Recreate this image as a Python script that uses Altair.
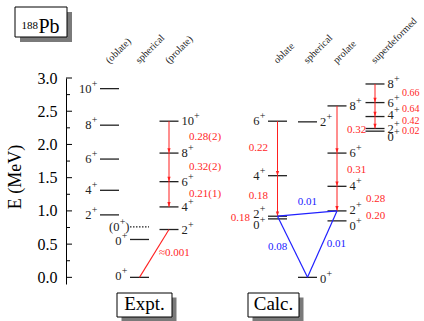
import altair as alt
import pandas as pd

# ---------------------------------------------------------------------------
# Level energies (MeV), listed top to bottom in each column
# ---------------------------------------------------------------------------
EXPT_OBLATE_J = ["10", "8", "6", "4", "2"]
EXPT_OBLATE_E = [2.84, 2.29, 1.78, 1.31, 0.94]
EXPT_SPH_J = ["0", "0"]
EXPT_SPH_E = [0.57, 0.00]
EXPT_SPH_TENTATIVE_E = 0.76          # the (0+) level, drawn dotted
EXPT_PROLATE_J = ["10", "8", "6", "4", "2"]
EXPT_PROLATE_E = [2.35, 1.87, 1.44, 1.06, 0.72]

CALC_OBLATE_J = ["6", "4", "2", "0"]
CALC_OBLATE_E = [2.35, 1.53, 0.92, 0.88]
CALC_SPH_J = ["2", "0"]
CALC_SPH_E = [2.34, 0.00]
CALC_PROLATE_J = ["8", "6", "4", "2", "0"]
CALC_PROLATE_E = [2.58, 1.87, 1.37, 1.00, 0.85]
CALC_SD_J = ["8", "6", "4", "2", "0"]
CALC_SD_E = [2.91, 2.63, 2.42, 2.24, 2.20]

# ---------------------------------------------------------------------------
# B(E2) strengths
# ---------------------------------------------------------------------------
EXPT_PROLATE_BE2 = ["0.28(2)", "0.32(2)", "0.21(1)"]   # 8->6, 6->4, 4->2
EXPT_MIXING_BE2 = "≈0.001"                              # prolate 2+ -> ground state
CALC_OBLATE_BE2 = ["0.22", "0.18", "0.18"]              # 6->4, 4->2, 2->0
CALC_PROLATE_BE2 = ["0.32", "0.31", "0.28", "0.20"]     # 8->6, 6->4, 4->2, 2->0
CALC_SD_BE2 = ["0.66", "0.64", "0.42", "0.02"]          # 8->6, 6->4, 4->2, 2->0
CALC_INTERBAND_BE2 = ["0.01", "0.08", "0.01"]           # obl 2+->pro 2+, obl 2+->g.s., pro 2+->g.s.

Y_MAJOR = [0.0, 0.5, 1.0, 1.5, 2.0, 2.5, 3.0]
Y_MINOR = [0.25, 0.75, 1.25, 1.75, 2.25, 2.75]

# ---------------------------------------------------------------------------
# Layout
# ---------------------------------------------------------------------------
FONT = "Liberation Serif"
LEFT, TOP = 66, 78
W, H = 424 - LEFT, 206
E_MIN, E_MAX = -0.1, 3.0
PX_PER_MEV = H / (E_MAX - E_MIN)
HALF = 9.5
RED, BLUE, INK = "#ff1f1f", "#2020ff", "#222222"

COLS = {"e_obl": 109.5, "e_sph": 139.5, "e_pro": 169.0,
        "c_obl": 277.5, "c_sph": 307.5, "c_pro": 337.0, "c_sd": 375.0}
HEADERS = {"e_obl": "(oblate)", "e_sph": "spherical", "e_pro": "(prolate)",
           "c_obl": "oblate", "c_sph": "spherical", "c_pro": "prolate",
           "c_sd": "superdeformed"}
# vertical nudges (px, up positive) for labels of closely spaced levels
LABEL_SHIFT = {"e_sph": [-2, 1], "c_sph": [0, -2], "c_obl": [0, 0, 2, -6],
               "c_pro": [0, 0, 0, 1, -5], "c_sd": [0, 0, 2, 0, -6]}
SD_VALUE_SHIFT = [0, 1, 2, -1]

xs = alt.Scale(domain=[LEFT, 424], range=[0, W], nice=False, zero=False)
ys = alt.Scale(domain=[E_MIN, E_MAX], nice=False, zero=False)
Y_AXIS = alt.Axis(
    values=Y_MAJOR, format=".1f", ticks=False, grid=False, title=None,
    domain=True, domainColor="black", domainWidth=1,
    labelFont=FONT, labelFontSize=16, labelColor="black", labelPadding=9,
    labelOverlap=False)
X = lambda f: alt.X(f, type="quantitative", scale=xs, axis=None)
Y = lambda f: alt.Y(f, type="quantitative", scale=ys, axis=Y_AXIS)


def px_x(v):  # page x -> plot-relative pixel
    return alt.value(v - LEFT)


def px_y(v):  # page y -> plot-relative pixel
    return alt.value(v - TOP)


# ---------------------------------------------------------------------------
# Tables
# ---------------------------------------------------------------------------
levels = []


def add_levels(col, Js, Es, side):
    c = COLS[col]
    shifts = LABEL_SHIFT.get(col, [0] * len(Js))
    for J, E, s in zip(Js, Es, shifts):
        x1, x2 = c - HALF, c + HALF
        if side == "R":
            nx = x2 + 3
            plx = nx + 6 * len(J) + 0.5
        else:
            nx = x1 - 8.5
            plx = x1 - 2.5
        levels.append(dict(col=col, J=J, E=E, x1=x1, x2=x2, side=side,
                           ly=E + s / PX_PER_MEV, nx=nx, plx=plx))


add_levels("e_obl", EXPT_OBLATE_J, EXPT_OBLATE_E, "L")
add_levels("e_sph", EXPT_SPH_J, EXPT_SPH_E, "L")
add_levels("e_pro", EXPT_PROLATE_J, EXPT_PROLATE_E, "R")
add_levels("c_obl", CALC_OBLATE_J, CALC_OBLATE_E, "L")
add_levels("c_sph", CALC_SPH_J, CALC_SPH_E, "R")
add_levels("c_pro", CALC_PROLATE_J, CALC_PROLATE_E, "R")
add_levels("c_sd", CALC_SD_J, CALC_SD_E, "R")
lev = pd.DataFrame(levels)
lev_L = lev[lev.side == "L"]
lev_R = lev[lev.side == "R"]

tent_x1 = COLS["e_sph"] - HALF
tentative = pd.DataFrame([dict(x1=tent_x1, x2=COLS["e_sph"] + HALF, E=EXPT_SPH_TENTATIVE_E)])
tent_text = pd.DataFrame([
    dict(x=tent_x1 - 10.5, E=EXPT_SPH_TENTATIVE_E, t="(0", size=12.5, dy=0),
    dict(x=tent_x1 - 4.5, E=EXPT_SPH_TENTATIVE_E, t="+", size=10, dy=-5),
    dict(x=tent_x1 - 0.5, E=EXPT_SPH_TENTATIVE_E, t=")", size=12.5, dy=0),
])

# in-band E2 arrows
arrows = []


def add_arrows(col, Es, n):
    for i in range(n):
        arrows.append(dict(x=COLS[col], E=Es[i], E2=Es[i + 1]))


add_arrows("e_pro", EXPT_PROLATE_E, 3)
add_arrows("c_obl", CALC_OBLATE_E, 2)
add_arrows("c_pro", CALC_PROLATE_E, 3)
add_arrows("c_sd", CALC_SD_E, 3)
arr = pd.DataFrame(arrows)

red_seg = pd.DataFrame([dict(x=COLS["e_pro"], E=EXPT_PROLATE_E[-1],
                             x2=COLS["e_sph"], E2=EXPT_SPH_E[-1])])
blue_seg = pd.DataFrame([
    dict(x=COLS["c_obl"], E=CALC_OBLATE_E[2], x2=COLS["c_pro"], E2=CALC_PROLATE_E[3]),
    dict(x=COLS["c_obl"], E=CALC_OBLATE_E[2], x2=COLS["c_sph"], E2=CALC_SPH_E[1]),
    dict(x=COLS["c_pro"], E=CALC_PROLATE_E[3], x2=COLS["c_sph"], E2=CALC_SPH_E[1]),
])


def mid(a, b):
    return (a + b) / 2


red_left = []
for i, t in enumerate(EXPT_PROLATE_BE2):
    red_left.append(dict(x=COLS["e_pro"] + 20, E=mid(EXPT_PROLATE_E[i], EXPT_PROLATE_E[i + 1]), t=t))
red_left.append(dict(x=COLS["e_pro"] - 10, E=mid(EXPT_PROLATE_E[-1], EXPT_SPH_E[-1]), t=EXPT_MIXING_BE2))
for i, t in enumerate(CALC_PROLATE_BE2):
    dx = 10 if i < 2 else 29
    red_left.append(dict(x=COLS["c_pro"] + dx, E=mid(CALC_PROLATE_E[i], CALC_PROLATE_E[i + 1]), t=t))
red_left = pd.DataFrame(red_left)

red_sd = pd.DataFrame([dict(x=COLS["c_sd"] + 27,
                            E=mid(CALC_SD_E[i], CALC_SD_E[i + 1]) + SD_VALUE_SHIFT[i] / PX_PER_MEV,
                            t=t)
                       for i, t in enumerate(CALC_SD_BE2)])

red_right = []
for i, t in enumerate(CALC_OBLATE_BE2):
    dx = -HALF if i < 2 else -HALF - 18
    red_right.append(dict(x=COLS["c_obl"] + dx, E=mid(CALC_OBLATE_E[i], CALC_OBLATE_E[i + 1]), t=t))
red_right = pd.DataFrame(red_right)

blue_txt = []
for (seg, t), (ddx, ddE) in zip(zip(blue_seg.to_dict("records"), CALC_INTERBAND_BE2),
                                [(0, 0.17), (-15, 0.0), (14, 0.0)]):
    blue_txt.append(dict(x=mid(seg["x"], seg["x2"]) + ddx, E=mid(seg["E"], seg["E2"]) + ddE, t=t))
blue_txt = pd.DataFrame(blue_txt)

heads = pd.DataFrame([dict(x=COLS[k], t=HEADERS[k]) for k in COLS])

ticks_major = pd.DataFrame({"E": Y_MAJOR})
ticks_minor = pd.DataFrame({"E": Y_MINOR})
one = pd.DataFrame({"k": [0]})

# ---------------------------------------------------------------------------
# Layers
# ---------------------------------------------------------------------------
layers = []

# y axis: labels + domain from Vega, inward ticks drawn as rules
layers.append(alt.Chart(ticks_major).mark_rule(color="black", strokeWidth=1).encode(
    x=alt.value(0), x2=alt.value(6), y=Y("E")))
layers.append(alt.Chart(ticks_minor).mark_rule(color="black", strokeWidth=1).encode(
    x=alt.value(0), x2=alt.value(4), y=Y("E")))

layers.append(alt.Chart(one).mark_text(text="E (MeV)", font=FONT, fontSize=18, angle=270,
                                       align="center", baseline="middle", color="black").encode(
    x=px_x(16), y=px_y(177)))

# energy levels
layers.append(alt.Chart(lev).mark_rule(color=INK, strokeWidth=1.3).encode(
    x=X("x1"), x2="x2", y=Y("E")))
layers.append(alt.Chart(tentative).mark_rule(color=INK, strokeWidth=1.3, strokeDash=[1.5, 1.5]).encode(
    x=X("x1"), x2="x2", y=Y("E")))

# spin-parity labels
layers.append(alt.Chart(lev_R).mark_text(font=FONT, fontSize=12.5, align="left", baseline="middle", color=INK).encode(
    x=X("nx"), y=Y("ly"), text="J:N"))
layers.append(alt.Chart(lev_R).mark_text(font=FONT, fontSize=10, align="left", baseline="middle", dy=-5, color=INK,
                                         text="+").encode(x=X("plx"), y=Y("ly")))
layers.append(alt.Chart(lev_L).mark_text(font=FONT, fontSize=12.5, align="right", baseline="middle", color=INK).encode(
    x=X("nx"), y=Y("ly"), text="J:N"))
layers.append(alt.Chart(lev_L).mark_text(font=FONT, fontSize=10, align="right", baseline="middle", dy=-5, color=INK,
                                         text="+").encode(x=X("plx"), y=Y("ly")))
for r in tent_text.to_dict("records"):
    layers.append(alt.Chart(pd.DataFrame([r])).mark_text(
        font=FONT, fontSize=r["size"], align="right", baseline="middle", dy=r["dy"], color=INK).encode(
        x=X("x"), y=Y("E"), text="t:N"))

# transitions
layers.append(alt.Chart(arr).mark_rule(color=RED, strokeWidth=1).encode(
    x=X("x"), y=Y("E"), y2="E2"))
layers.append(alt.Chart(arr).mark_point(shape="M-0.8,-2.4L0.8,-2.4L0,0Z", size=16, filled=True,
                                        opacity=1, color=RED, strokeWidth=0).encode(
    x=X("x"), y=Y("E2")))
layers.append(alt.Chart(red_seg).mark_rule(color=RED, strokeWidth=1.1).encode(
    x=X("x"), x2="x2", y=Y("E"), y2="E2"))
layers.append(alt.Chart(blue_seg).mark_rule(color=BLUE, strokeWidth=1.2).encode(
    x=X("x"), x2="x2", y=Y("E"), y2="E2"))

# B(E2) values
layers.append(alt.Chart(red_left).mark_text(font=FONT, fontSize=11, align="left", baseline="middle", color=RED).encode(
    x=X("x"), y=Y("E"), text="t:N"))
layers.append(alt.Chart(red_sd).mark_text(font=FONT, fontSize=10, align="left", baseline="middle", color=RED).encode(
    x=X("x"), y=Y("E"), text="t:N"))
layers.append(alt.Chart(red_right).mark_text(font=FONT, fontSize=11, align="right", baseline="middle", color=RED).encode(
    x=X("x"), y=Y("E"), text="t:N"))
layers.append(alt.Chart(blue_txt).mark_text(font=FONT, fontSize=11, align="center", baseline="middle", color=BLUE).encode(
    x=X("x"), y=Y("E"), text="t:N"))

# column headers
layers.append(alt.Chart(heads).mark_text(font=FONT, fontSize=10, angle=315, align="left",
                                         baseline="alphabetic", color=INK).encode(
    x=X("x"), y=px_y(64), text="t:N"))


# framed boxes with drop shadow
def box(x0, y0, x1, y1, off):
    shadow = alt.Chart(one).mark_rect(color="#7a7a7a").encode(
        x=px_x(x0 + off), x2=px_x(x1 + off), y=px_y(y0 + off), y2=px_y(y1 + off))
    frame = alt.Chart(one).mark_rect(fill="white", stroke="black", strokeWidth=1).encode(
        x=px_x(x0), x2=px_x(x1), y=px_y(y0), y2=px_y(y1))
    return [shadow, frame]


layers += box(15, 7, 67, 37, 5)
layers.append(alt.Chart(one).mark_text(text="188", font=FONT, fontSize=11, align="left",
                                       baseline="alphabetic", color="black").encode(x=px_x(21.5), y=px_y(28.5)))
layers.append(alt.Chart(one).mark_text(text="Pb", font=FONT, fontSize=20, align="left",
                                       baseline="alphabetic", color="black").encode(x=px_x(38.5), y=px_y(32.5)))

layers += box(117, 293, 172, 317, 4.5)
layers.append(alt.Chart(one).mark_text(text="Expt.", font=FONT, fontSize=19, align="center",
                                       baseline="alphabetic", color="black").encode(x=px_x(144.5), y=px_y(309.5)))
layers += box(248, 293, 299, 317, 4.5)
layers.append(alt.Chart(one).mark_text(text="Calc.", font=FONT, fontSize=19, align="center",
                                       baseline="alphabetic", color="black").encode(x=px_x(273.5), y=px_y(310)))

chart = alt.layer(*layers).properties(
    width=W, height=H, autosize="none",
    padding={"left": LEFT, "top": TOP, "right": 424 - LEFT - W, "bottom": 321 - TOP - H},
).configure_view(stroke=None)

chart.save("out.html", embed_options={"renderer": "svg", "actions": False})
